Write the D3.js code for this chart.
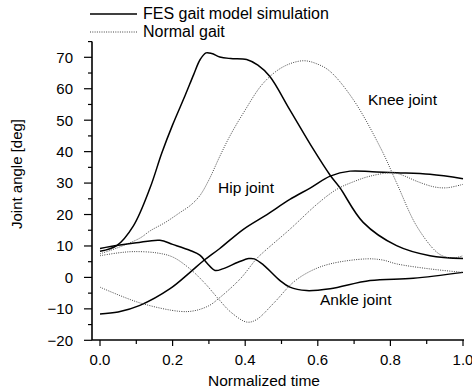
<!DOCTYPE html>
<html><head><meta charset="utf-8">
<script src="https://cdn.jsdelivr.net/npm/d3@7"></script>
<style>body{margin:0;background:#fff}svg{display:block}text{font-family:"Liberation Sans",Arial,sans-serif;fill:#000}</style>
</head><body><svg id="c" width="472" height="392"></svg>
<script>
// ---- data ----
const fesKneeT = [0,0.046,0.092,0.138,0.17,0.2,0.235,0.258,0.276,0.292,0.308,0.33,0.36,0.404,0.435,0.468,0.523,0.588,0.634,0.661,0.725,0.817,0.909,1.0];
const fesKneeV = [8.3,10.1,16.4,28.5,39.5,48.5,58,64.5,69.3,71.4,71.2,70.1,69.6,69.3,67.5,63.9,53.3,40.7,32.5,28.5,17.5,10.1,6.9,6.0];
const normKneeT = [0,0.05,0.11,0.138,0.18,0.22,0.25,0.275,0.3,0.33,0.358,0.395,0.45,0.505,0.56,0.6,0.634,0.698,0.775,0.817,0.872,0.928,0.955,0.98,1.0];
const normKneeV = [7.5,9.5,12.5,14.8,17.5,20.6,23,26,31,38.5,45,52.3,61.8,67,68.9,67.8,65.5,56.5,40.7,30.1,16.4,8,6.4,6.3,6.9];
const fesHipT = [0,0.05,0.11,0.193,0.248,0.285,0.33,0.395,0.46,0.523,0.58,0.634,0.689,0.75,0.817,0.909,1.0];
const fesHipV = [-11.6,-11,-8.9,-3.6,1.6,5.3,9.2,15.3,20,24.8,28.5,32.2,33.8,33.6,33.3,32.8,31.4];
const normHipT = [0,0.11,0.22,0.26,0.3,0.326,0.386,0.431,0.45,0.523,0.6,0.652,0.7,0.744,0.808,0.84,0.872,0.92,0.955,1.0];
const normHipV = [-3.1,-8.1,-10.8,-10.6,-9,-6.8,-0.5,5.9,8,15.3,23.5,28,30.5,32.2,33.3,32.2,30.6,28.8,28.5,29.6];
const fesAnkleT = [0,0.05,0.1,0.165,0.2,0.25,0.275,0.295,0.317,0.34,0.38,0.41,0.425,0.45,0.496,0.523,0.569,0.634,0.744,0.863,1.0];
const fesAnkleV = [9.2,10.2,11,11.8,10.5,8.5,7.1,4.5,2.2,2.8,4.8,6,5.9,4,-1.0,-3.1,-4.2,-3.6,-1.0,-0.3,1.6];
const normAnkleT = [0,0.05,0.092,0.156,0.2,0.248,0.29,0.326,0.36,0.404,0.43,0.48,0.533,0.58,0.634,0.735,0.78,0.817,0.909,1.0];
const normAnkleV = [6.9,7.8,8.2,7.8,6.5,2.7,-2,-6.8,-11,-14.2,-13.5,-8,-1.5,2,4.3,5.9,5.5,4.3,2.7,1.6];
const xTicks = [0,0.2,0.4,0.6,0.8,1.0];
const xTickLabels = ["0.0","0.2","0.4","0.6","0.8","1.0"];
const yTicks = [-20,-10,0,10,20,30,40,50,60,70];
const yTickLabels = ["\u221220","\u221210","0","10","20","30","40","50","60","70"];
const legendLabels = ["FES gait model simulation","Normal gait"];
const jointLabels = ["Knee joint","Hip joint","Ankle joint"];

// ---- chart ----
const svg = d3.select("#c");
const x = d3.scaleLinear().domain([0,1]).range([100,463]);
const y = d3.scaleLinear().domain([-20,70]).range([340.3,57.3]);
const axL = 92, axB = 340;

const series = [
  {t:fesKneeT,v:fesKneeV,fes:true},{t:normKneeT,v:normKneeV,fes:false},
  {t:fesHipT,v:fesHipV,fes:true},{t:normHipT,v:normHipV,fes:false},
  {t:fesAnkleT,v:fesAnkleV,fes:true},{t:normAnkleT,v:normAnkleV,fes:false}
];
const line = d3.line().x(d=>x(d[0])).y(d=>y(d[1])).curve(d3.curveCatmullRom.alpha(0.5));
series.forEach(s=>{
  const pts = s.t.map((t,i)=>[t,s.v[i]]);
  svg.append("path").attr("d",line(pts)).attr("fill","none")
    .attr("stroke", s.fes?"#000":"#444")
    .attr("stroke-width", s.fes?1.5:1)
    .attr("stroke-dasharray", s.fes?null:"1,1.3");
});

// axes
const ga = svg.append("g").attr("stroke","#000").attr("stroke-width",1.6);
ga.append("line").attr("x1",axL).attr("x2",axL).attr("y1",y(75)).attr("y2",axB);
ga.append("line").attr("x1",axL).attr("x2",464).attr("y1",axB).attr("y2",axB);
d3.range(-20,76,5).forEach(v=>{
  const major = v%10===0;
  ga.append("line").attr("x1",axL-(major?8:4)).attr("x2",axL).attr("y1",y(v)).attr("y2",y(v)).attr("stroke-width",1.2);
});
d3.range(0,11).forEach(i=>{
  const t=i/10, major=i%2===0;
  ga.append("line").attr("x1",x(t)).attr("x2",x(t)).attr("y1",axB).attr("y2",axB+(major?6:4)).attr("stroke-width",1.2);
});
yTicks.forEach((v,i)=>{
  svg.append("text").attr("x",73).attr("y",y(v)).attr("dy","0.36em").attr("text-anchor","end")
    .attr("font-size","15px").text(yTickLabels[i]);
});
xTicks.forEach((t,i)=>{
  svg.append("text").attr("x",x(t)).attr("y",365).attr("text-anchor","middle")
    .attr("font-size","15px").text(xTickLabels[i]);
});
svg.append("text").attr("x",264).attr("y",386).attr("text-anchor","middle").attr("font-size","15.5px").text("Normalized time");
svg.append("text").attr("transform","translate(22,174) rotate(-90)").attr("text-anchor","middle").attr("font-size","15px").text("Joint angle [deg]");

// legend
svg.append("line").attr("x1",90).attr("x2",137).attr("y1",14).attr("y2",14).attr("stroke","#000").attr("stroke-width",1.5);
svg.append("line").attr("x1",90).attr("x2",137).attr("y1",32).attr("y2",32).attr("stroke","#444").attr("stroke-width",1).attr("stroke-dasharray","1,1.3");
svg.append("text").attr("x",143).attr("y",19).attr("font-size","16px").text(legendLabels[0]);
svg.append("text").attr("x",143).attr("y",37).attr("font-size","16px").text(legendLabels[1]);

// joint annotations
const annPos = [[368,105],[218,193],[320,305]];
jointLabels.forEach((s,i)=>{
  svg.append("text").attr("x",annPos[i][0]).attr("y",annPos[i][1]).attr("font-size","15.5px").text(s);
});
</script></body></html>
